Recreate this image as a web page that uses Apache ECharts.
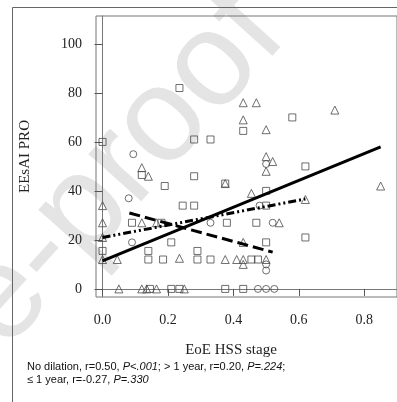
<!DOCTYPE html>
<html>
<head>
<meta charset="utf-8">
<script src="https://cdn.jsdelivr.net/npm/echarts@6/dist/echarts.min.js"></script>
<style>
  html, body { margin: 0; padding: 0; background: #fff; }
  #chart { width: 397px; height: 402px; }
</style>
</head>
<body>
<div id="chart"></div>
<script>
// tick values
var xTicks = [0, 0.2, 0.4, 0.6, 0.8];
var yTicks = [0, 20, 40, 60, 80, 100];

// no dilation (triangles)
var noDilation = [
  [0.12, 49.5], [0.14, 46], [0.43, 76], [0.47, 76], [0.43, 69], [0.50, 65], [0.71, 73],
  [0.50, 54], [0.52, 52], [0.50, 48], [0.85, 42], [0.375, 43], [0.455, 39],
  [0.0, 34], [0.0, 27], [0.12, 27], [0.165, 27], [0.0, 21], [0.0, 12], [0.045, 12],
  [0.235, 12.5], [0.05, 0], [0.12, 0], [0.135, 0], [0.165, 0], [0.25, 0],
  [0.62, 36.5], [0.54, 27], [0.375, 12], [0.41, 12], [0.43, 12], [0.43, 10],
  [0.50, 12], [0.43, 19]
];
// > 1 year (squares)
var overOneYear = [
  [0.0, 60], [0.235, 82], [0.28, 61], [0.33, 61], [0.43, 64.5], [0.58, 70], [0.62, 50],
  [0.12, 46.5], [0.19, 42], [0.28, 46], [0.375, 43], [0.50, 40], [0.245, 34], [0.28, 34],
  [0.50, 34], [0.09, 27], [0.18, 27], [0.38, 27], [0.47, 27], [0.21, 19], [0.0, 15.5],
  [0.14, 15.5], [0.14, 12], [0.185, 12], [0.29, 15.5], [0.29, 12], [0.33, 12],
  [0.455, 12], [0.475, 12], [0.50, 19], [0.62, 21], [0.145, 0], [0.21, 0], [0.235, 0],
  [0.375, 0], [0.43, 0]
];
// <= 1 year (circles)
var underOneYear = [
  [0.094, 55], [0.08, 37], [0.09, 19], [0.50, 51], [0.48, 34], [0.33, 27], [0.52, 27],
  [0.50, 10], [0.50, 7.5], [0.475, 0], [0.50, 0], [0.525, 0]
];

// regression lines (end points)
var fitNoDilation = [[0.0, 11.4], [0.85, 58]];
var fitOverOne = [[0.0, 21], [0.62, 36.7]];
var fitUnderOne = [[0.082, 31], [0.52, 15]];

var chart = echarts.init(document.getElementById('chart'));

var serif = '"Liberation Serif", "DejaVu Serif", serif';
var markStyle = { color: 'transparent', borderColor: '#4a4a4a', borderWidth: 1 };

function scatter(name, data, symbol, size) {
  return {
    name: name,
    type: 'scatter',
    data: data,
    symbol: symbol,
    symbolSize: size,
    itemStyle: markStyle,
    emphasis: { disabled: true }
  };
}
function fit(name, data, type) {
  return {
    name: name,
    type: 'line',
    data: data,
    showSymbol: false,
    lineStyle: { color: '#000', width: 3, type: type },
    z: 5
  };
}

var option = {
  backgroundColor: '#fff',
  animation: false,
  grid: {
    left: 96, top: 16, width: 313, height: 281,
    show: true, borderColor: '#777', borderWidth: 1
  },
  xAxis: {
    type: 'value',
    min: -0.02, max: 0.9,
    splitLine: { show: false },
    axisLine: { show: true, lineStyle: { color: '#777', width: 1 } },
    axisTick: { show: true, inside: false, length: 7, customValues: xTicks, lineStyle: { color: '#555' } },
    axisLabel: {
      customValues: xTicks, margin: 16,
      fontFamily: serif, fontSize: 14, color: '#222',
      formatter: function (v) { return v.toFixed(1); }
    }
  },
  yAxis: {
    type: 'value',
    min: -3.3, max: 111.4,
    name: 'EEsAI PRO',
    nameLocation: 'middle',
    nameGap: 63,
    nameTextStyle: { fontFamily: serif, fontSize: 15, color: '#222' },
    splitLine: { show: false },
    axisLine: { show: true, lineStyle: { color: '#777', width: 1 } },
    axisTick: { show: true, inside: false, length: 8, customValues: yTicks, lineStyle: { color: '#555' } },
    axisLabel: {
      customValues: yTicks, margin: 14,
      fontFamily: serif, fontSize: 14, color: '#222'
    }
  },
  graphic: [
    {
      type: 'text', x: 262, y: 12, z: -10, silent: true,
      rotation: 48 * Math.PI / 180,
      style: {
        text: 'Journal Pre-proof',
        font: '134px "Liberation Sans", Arial, sans-serif',
        fill: '#e4e4e4',
        textAlign: 'right', textVerticalAlign: 'middle'
      }
    },
    {
      type: 'rect', z: 10, silent: true,
      shape: { x: 12.5, y: 7.5, width: 420, height: 420 },
      style: { fill: 'none', stroke: '#666', lineWidth: 1 }
    },
    {
      type: 'text', x: 231, y: 350, z: 10,
      style: {
        text: 'EoE HSS stage',
        font: '15px "Liberation Serif", serif',
        fill: '#222', textAlign: 'center', textVerticalAlign: 'middle'
      }
    },
    {
      type: 'text', x: 27, y: 360, z: 10,
      style: {
        text: '{n|No dilation, r=0.50, }{i|P<.001}{n|; > 1 year, r=0.20, }{i|P=.224}{n|;}\n{n|≤ 1 year, r=-0.27, }{i|P=.330}',
        rich: {
          n: { fontFamily: '"Liberation Sans", Arial, sans-serif', fontSize: 11, fill: '#111', lineHeight: 13 },
          i: { fontFamily: '"Liberation Sans", Arial, sans-serif', fontSize: 11, fontStyle: 'italic', fill: '#111', lineHeight: 13 }
        }
      }
    }
  ],
  series: [
    scatter('No dilation', noDilation, 'triangle', 8),
    scatter('> 1 year', overOneYear, 'rect', 7),
    scatter('≤ 1 year', underOneYear, 'circle', 7),
    fit('No dilation fit', fitNoDilation, 'solid'),
    fit('> 1 year fit', fitOverOne, [8, 3, 2, 3, 2, 3]),
    fit('≤ 1 year fit', fitUnderOne, [11, 5])
  ]
};

chart.setOption(option);
</script>
</body>
</html>
